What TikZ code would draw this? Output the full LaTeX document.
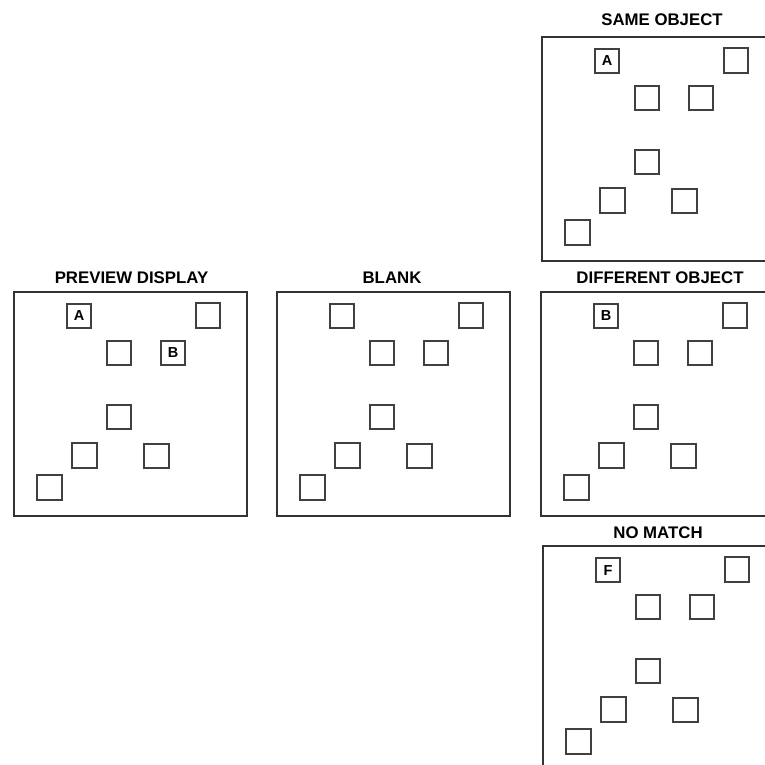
\documentclass[tikz,border=0pt]{standalone}
\usepackage{fontspec}
\setmainfont{Liberation Sans}
\tikzset{
  panel/.style={draw=black!80, line width=1.4pt},
  cell/.style={draw=black!75, line width=1.6pt, minimum size=24.5pt, inner sep=0pt},
  letter/.style={font=\fontsize{14.5}{15}\selectfont\bfseries, inner sep=0pt},
  title/.style={font=\fontsize{16.8}{18}\selectfont\bfseries, inner sep=0pt},
}
\begin{document}
\begin{tikzpicture}[x=1pt, y=-1pt]
    % 画布大小
    \useasboundingbox (0,0) rectangle (765,764);

    % 五个面板：名称/左上角/标题位置/标题
    \foreach \nm/\px/\py/\tx/\ty/\ttl in {
        prev/14/292/131.5/278/PREVIEW DISPLAY,
        blank/277/292/392/278/BLANK,
        same/542/37/662/20/SAME OBJECT,
        diff/541/292/660/278/DIFFERENT OBJECT,
        nomatch/543/546/658/533/NO MATCH} {
        \draw[panel] (\px,\py) rectangle ++(233,224);
        \node[title] (\nm-title) at (\tx,\ty) {\ttl};
        % 八个小方块
        \foreach \i/\cx/\cy in {1/65/24, 2/194/23.5, 3/105/61, 4/159/61,
                                5/105/125, 6/70.5/163.5, 7/142.5/164, 8/35.5/195.5} {
            \node[cell] (\nm-\i) at (\px+\cx,\py+\cy) {};
        }
    }

    % 方块中的字母
    \node[letter] (prev-A) at (prev-1) {A};
    \node[letter] (prev-B) at (prev-4) {B};
    \node[letter] (same-A) at (same-1) {A};
    \node[letter] (diff-B) at (diff-1) {B};
    \node[letter] (nomatch-F) at (nomatch-1) {F};
\end{tikzpicture}
\end{document}
